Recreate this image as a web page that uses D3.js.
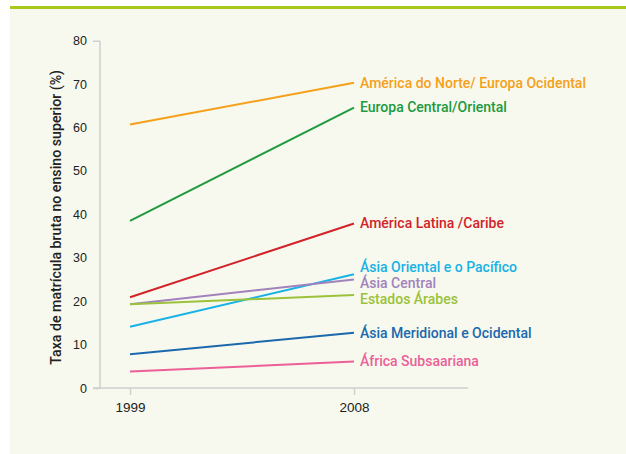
<!DOCTYPE html>
<html>
<head>
<meta charset="utf-8">
<script src="https://cdn.jsdelivr.net/npm/d3@7"></script>
<style>
  body { margin: 0; background: #fff; }
  svg { display: block; font-family: Roboto, "DejaVu Sans", sans-serif; }
</style>
</head>
<body>
<div id="chart"></div>
<script>
"use strict";

// data
var years = [1999, 2008];
var regions = [
  "América do Norte/ Europa Ocidental",
  "Europa Central/Oriental",
  "América Latina /Caribe",
  "Ásia Oriental e o Pacífico",
  "Ásia Central",
  "Estados Árabes",
  "Ásia Meridional e Ocidental",
  "África Subsaariana"
];
var values1999 = [60.7, 38.5, 20.9, 14.1, 19.3, 19.3, 7.8, 3.8];
var values2008 = [70.3, 64.6, 37.9, 26.2, 25.0, 21.4, 12.7, 6.1];
var colors = ["#f5a01a", "#21993f", "#d2232a", "#19b2e6", "#a282bd", "#9bc23a", "#1b68ad", "#ec5f98"];
var yTicks = [0, 10, 20, 30, 40, 50, 60, 70, 80];
var yTitle = "Taxa de matrícula bruta no ensino superior (%)";

var width = 626, height = 454;

var svg = d3.select("#chart").append("svg")
  .attr("width", width)
  .attr("height", height);

// panel background + top rule
svg.append("rect").attr("x", 10).attr("y", 8).attr("width", width - 10).attr("height", height - 8)
  .attr("fill", "#f7f9ee");
svg.append("rect").attr("x", 10).attr("y", 6).attr("width", width - 10).attr("height", 3)
  .attr("fill", "#a9c81c");

var x = d3.scaleLinear().domain(years).range([130, 354]);
var y = d3.scaleLinear().domain([0, 80]).range([388, 40.7]);

var data = regions.map(function(name, i) {
  return { name: name, color: colors[i], values: [values1999[i], values2008[i]] };
});

// y axis
var yAxis = svg.append("g")
  .attr("transform", "translate(100,0)")
  .call(d3.axisLeft(y).tickValues(yTicks).tickSize(7).tickPadding(6));
yAxis.select(".domain").attr("stroke", "#cfcfcf").attr("stroke-width", 1.5).attr("d", "M0," + y(80) + "V" + y(0));
yAxis.selectAll(".tick line").attr("stroke", "#cfcfcf").attr("stroke-width", 1.5)
  .attr("display", function(d) { return (d === 80 || d === 0) ? null : "none"; });
yAxis.selectAll(".tick text").attr("fill", "#222").style("font-size", "12.5px").style("font-weight", 500);

// x axis
var xAxis = svg.append("g")
  .attr("transform", "translate(0,388)")
  .call(d3.axisBottom(x).tickValues(years).tickFormat(d3.format("d")).tickSize(7).tickPadding(7));
xAxis.select(".domain").attr("stroke", "#cfcfcf").attr("stroke-width", 1.5).attr("d", "M93,0H468");
xAxis.selectAll(".tick line").attr("stroke", "#cfcfcf").attr("stroke-width", 1.5);
xAxis.selectAll(".tick text").attr("fill", "#222").style("font-size", "13.5px").style("font-weight", 500);

// y title
svg.append("text")
  .attr("transform", "translate(61," + ((y(0) + y(80)) / 2 + 3) + ") rotate(-90)")
  .attr("text-anchor", "middle")
  .attr("fill", "#222")
  .style("font-size", "14.2px")
  .style("font-weight", 500)
  .text(yTitle);

// lines
var line = d3.line()
  .x(function(d, i) { return x(years[i]); })
  .y(function(d) { return y(d); });

svg.selectAll(".region")
  .data(data)
  .enter().append("path")
  .attr("class", "region")
  .attr("fill", "none")
  .attr("stroke", function(d) { return d.color; })
  .attr("stroke-width", 2)
  .attr("d", function(d) { return line(d.values); });

// labels at the 2008 end, pushed apart so they don't overlap
var labels = data.map(function(d) { return { d: d, y: y(d.values[1]) }; });
labels.sort(function(a, b) { return a.y - b.y; });
var gap = 16;
for (var iter = 0; iter < 50; iter++) {
  for (var i = 1; i < labels.length; i++) {
    var diff = labels[i].y - labels[i - 1].y;
    if (diff < gap) {
      var push = (gap - diff) / 2;
      labels[i].y += push;
      labels[i - 1].y -= push;
    }
  }
}

svg.selectAll(".lbl")
  .data(labels)
  .enter().append("text")
  .attr("class", "lbl")
  .attr("x", x(2008) + 6)
  .attr("y", function(l) { return l.y; })
  .attr("dy", "0.35em")
  .attr("fill", function(l) { return l.d.color; })
  .style("font-size", "14px")
  .style("font-weight", 500)
  .text(function(l) { return l.d.name; });
</script>
</body>
</html>
